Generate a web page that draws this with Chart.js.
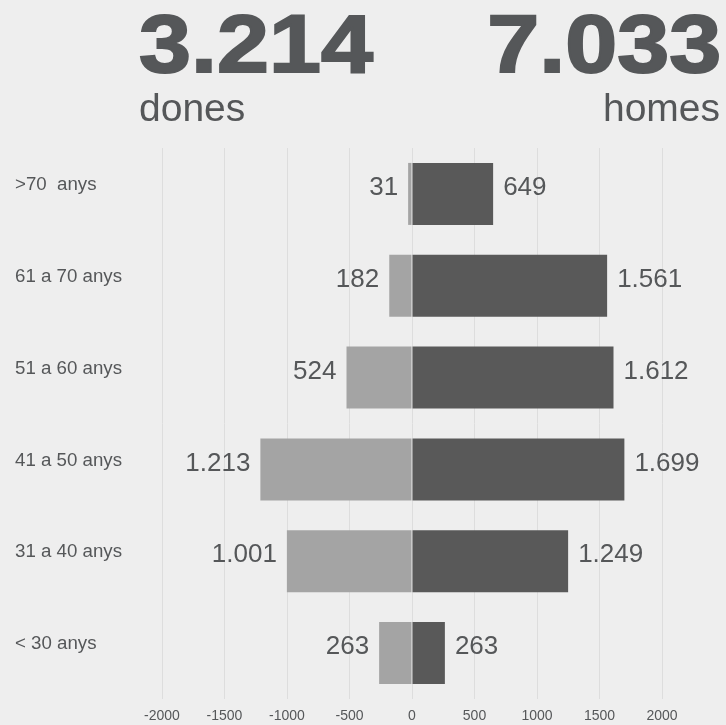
<!DOCTYPE html>
<html>
<head>
<meta charset="utf-8">
<script src="https://cdn.jsdelivr.net/npm/chart.js@4"></script>
<style>
  html, body { margin: 0; padding: 0; background: #eeeeee; }
  #wrap { position: relative; width: 726px; height: 725px; overflow: hidden; background: #eeeeee; }
  #chartBox { position: absolute; left: 0; top: 0; width: 726px; height: 725px; }
  .big { position: absolute; font-family: "Liberation Sans", Arial, sans-serif; font-weight: bold;
         font-size: 82px; line-height: 82px; color: #555759; -webkit-text-stroke: 2px #555759; white-space: nowrap; }
  .sub { position: absolute; font-family: "Liberation Sans", Arial, sans-serif; font-size: 39px;
         line-height: 39px; color: #555759; white-space: nowrap; }
</style>
</head>
<body>
<div id="wrap">
  <div id="chartBox"><canvas id="c"></canvas></div>
  <div class="big" id="totW" style="left:139px; top:3px; transform: scaleX(1.14); transform-origin: left top;"></div>
  <div class="sub" id="labW" style="left:139px; top:88px;"></div>
  <div class="big" id="totM" style="right:5px; top:3px; transform: scaleX(1.14); transform-origin: right top;"></div>
  <div class="sub" id="labM" style="right:6px; top:88px;"></div>
</div>
<script>
// ---- data ----
const categories = ['>70  anys', '61 a 70 anys', '51 a 60 anys', '41 a 50 anys', '31 a 40 anys', '< 30 anys'];
const dones = [31, 182, 524, 1213, 1001, 263];
const homes = [649, 1561, 1612, 1699, 1249, 263];
const seriesNames = ['dones', 'homes'];
const xTicks = [-2000, -1500, -1000, -500, 0, 500, 1000, 1500, 2000];

function fmt(v) {
  return String(Math.abs(Math.round(v))).replace(/\B(?=(\d{3})+(?!\d))/g, '.');
}
const sum = a => a.reduce((s, v) => s + v, 0);

document.getElementById('totW').textContent = fmt(sum(dones));
document.getElementById('totM').textContent = fmt(sum(homes));
document.getElementById('labW').textContent = seriesNames[0];
document.getElementById('labM').textContent = seriesNames[1];

const valueLabels = {
  id: 'valueLabels',
  afterDatasetsDraw(chart) {
    const ctx = chart.ctx;
    ctx.save();
    ctx.font = '26px "Liberation Sans", Arial, sans-serif';
    ctx.fillStyle = '#555759';
    ctx.textBaseline = 'middle';
    chart.data.datasets.forEach((ds, di) => {
      const meta = chart.getDatasetMeta(di);
      meta.data.forEach((el, i) => {
        const v = ds.data[i];
        const y = el.y - 6;
        if (v < 0) {
          ctx.textAlign = 'right';
          ctx.fillText(fmt(v), el.x - 10, y);
        } else {
          ctx.textAlign = 'left';
          ctx.fillText(fmt(v), el.x + 10, y);
        }
      });
    });
    ctx.restore();
  }
};

new Chart(document.getElementById('c'), {
  type: 'bar',
  data: {
    labels: categories,
    datasets: [
      { label: seriesNames[0], data: dones.map(v => -v), backgroundColor: '#a4a4a4',
        categoryPercentage: 0.675, barPercentage: 1 },
      { label: seriesNames[1], data: homes, backgroundColor: '#595959',
        categoryPercentage: 0.675, barPercentage: 1 }
    ]
  },
  options: {
    indexAxis: 'y',
    responsive: true,
    maintainAspectRatio: false,
    animation: false,
    layout: { padding: { top: 148, right: 64, bottom: 0, left: 15 } },
    plugins: { legend: { display: false }, tooltip: { enabled: false } },
    scales: {
      x: {
        stacked: true,
        min: -2000, max: 2000,
        afterBuildTicks: axis => { axis.ticks = xTicks.map(v => ({ value: v })); },
        afterFit: axis => { axis.height = 26; },
        grid: { color: '#dddddd', drawTicks: false, lineWidth: 1 },
        border: { display: false },
        ticks: { color: '#555759', padding: 9, font: { size: 14, family: '"Liberation Sans", Arial, sans-serif' },
                 callback: v => String(v) }
      },
      y: {
        stacked: true,
        grid: { display: false, drawTicks: false },
        border: { display: false },
        afterFit: axis => { axis.width = 147; },
        ticks: { color: '#555759', crossAlign: 'far', labelOffset: -9, padding: 0,
                 font: { size: 18.7, family: '"Liberation Sans", Arial, sans-serif' } }
      }
    }
  },
  plugins: [valueLabels]
});
</script>
</body>
</html>
